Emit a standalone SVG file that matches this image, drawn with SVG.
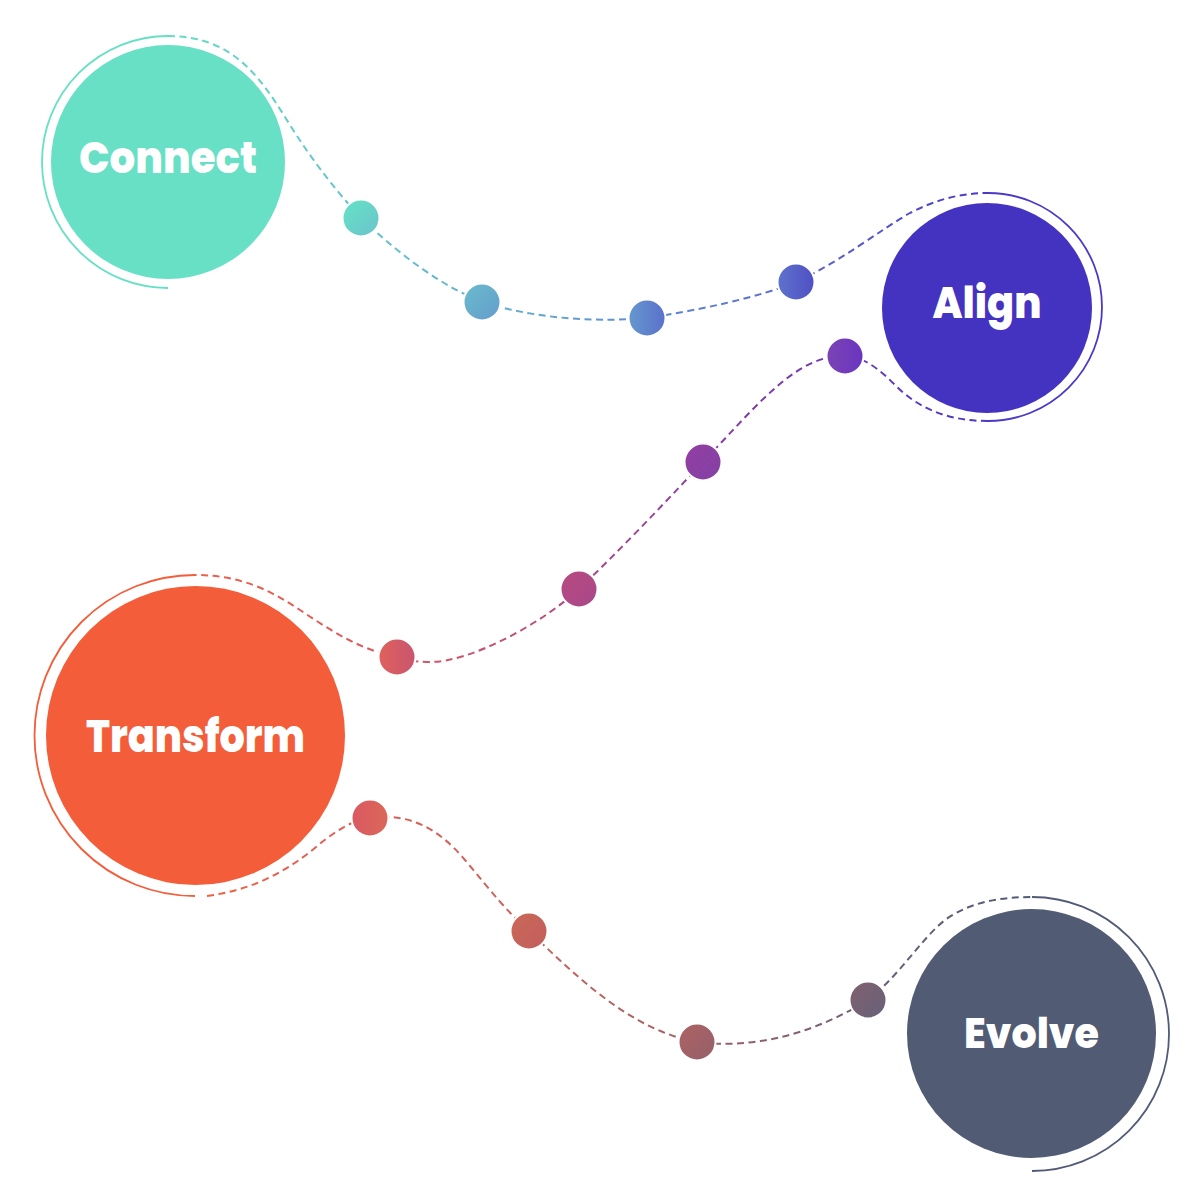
<svg xmlns="http://www.w3.org/2000/svg" width="1200" height="1200" viewBox="0 0 1200 1200">
<style>
.lbl{font-family:Poppins,Inter,"Noto Sans",sans-serif;font-weight:800;fill:#ffffff;text-anchor:middle}
.dash{fill:none;stroke-width:2;stroke-dasharray:7 4.5}
.ring{fill:none;stroke-width:1.8}
.dot{stroke:#ffffff;stroke-width:2}
</style>
<defs>
<linearGradient id="gA" gradientUnits="userSpaceOnUse" x1="168" y1="0" x2="988" y2="0">
<stop offset="0" stop-color="#66dcc6"/><stop offset="0.4" stop-color="#65b0cc"/><stop offset="0.6" stop-color="#5c88d0"/><stop offset="0.8" stop-color="#5a62cc"/><stop offset="1" stop-color="#4a38c8"/>
</linearGradient>
<linearGradient id="gB" gradientUnits="userSpaceOnUse" x1="988" y1="0" x2="195" y2="0">
<stop offset="0" stop-color="#4a3ac8"/><stop offset="0.18" stop-color="#6a38bb"/><stop offset="0.36" stop-color="#8a40a0"/><stop offset="0.52" stop-color="#b04a84"/><stop offset="0.75" stop-color="#d85a60"/><stop offset="1" stop-color="#f06048"/>
</linearGradient>
<linearGradient id="gC" gradientUnits="userSpaceOnUse" x1="207" y1="0" x2="1032" y2="0">
<stop offset="0" stop-color="#f0603f"/><stop offset="0.2" stop-color="#dd5e5a"/><stop offset="0.39" stop-color="#c8645a"/><stop offset="0.59" stop-color="#a06068"/><stop offset="0.8" stop-color="#6e6078"/><stop offset="1" stop-color="#525a78"/>
</linearGradient>
<linearGradient id="d1" x1="0" y1="0" x2="1" y2="1"><stop offset="0" stop-color="#64e4c4"/><stop offset="1" stop-color="#6cc2cc"/></linearGradient>
<linearGradient id="d2" x1="0" y1="0" x2="1" y2="1"><stop offset="0" stop-color="#6abccc"/><stop offset="1" stop-color="#649ccc"/></linearGradient>
<linearGradient id="d3" x1="0" y1="0" x2="1" y2="0"><stop offset="0" stop-color="#6598cc"/><stop offset="1" stop-color="#5a70cc"/></linearGradient>
<linearGradient id="d4" x1="0" y1="0" x2="1" y2="0"><stop offset="0" stop-color="#5e72cc"/><stop offset="1" stop-color="#5050c4"/></linearGradient>
<linearGradient id="d5" x1="0" y1="0" x2="1" y2="0"><stop offset="0" stop-color="#7a44b5"/><stop offset="1" stop-color="#6a34c0"/></linearGradient>
<linearGradient id="d6" x1="0" y1="0" x2="1" y2="1"><stop offset="0" stop-color="#923fa0"/><stop offset="1" stop-color="#8440a6"/></linearGradient>
<linearGradient id="d7" x1="0" y1="0" x2="1" y2="1"><stop offset="0" stop-color="#b84a80"/><stop offset="1" stop-color="#a8488a"/></linearGradient>
<linearGradient id="d8" x1="0" y1="0" x2="1" y2="0"><stop offset="0" stop-color="#e0605c"/><stop offset="1" stop-color="#c8566e"/></linearGradient>
<linearGradient id="d9" x1="0" y1="0" x2="1" y2="0"><stop offset="0" stop-color="#da5862"/><stop offset="1" stop-color="#da6858"/></linearGradient>
<linearGradient id="d10" x1="0" y1="0" x2="1" y2="1"><stop offset="0" stop-color="#cc6858"/><stop offset="1" stop-color="#c05e5c"/></linearGradient>
<linearGradient id="d11" x1="0" y1="0" x2="1" y2="1"><stop offset="0" stop-color="#ae6264"/><stop offset="1" stop-color="#94606a"/></linearGradient>
<linearGradient id="d12" x1="0" y1="0" x2="1" y2="1"><stop offset="0" stop-color="#80606e"/><stop offset="1" stop-color="#66627a"/></linearGradient>
</defs>

<g id="connectors">
<path class="dash" stroke="url(#gA)" d="M168,36 C235,36 262,80 290,125 C315,165 340,195 361,218 C400,255 440,285 482,302 C540,320 600,322 647,318 C700,310 760,297 796,282 C840,262 880,230 910,213 C935,200 960,193 988,193"/>
<path class="dash" stroke="url(#gB)" d="M988,421 C950,421 920,410 895,385 C880,370 865,357 845,356 C812,355 785,378 760,402 C740,422 722,442 703,462 C660,508 620,550 579,589 C540,625 470,662 430,662 C415,662 405,660 397,657 C360,650 330,630 300,610 C270,590 240,575 195,575"/>
<path class="dash" stroke="url(#gC)" d="M207,896 C250,890 280,875 310,852 C330,835 350,820 370,818 C410,812 440,830 465,860 C490,890 510,915 529,931 C575,975 630,1030 697,1042 C760,1050 820,1030 868,1000 C900,975 920,940 945,920 C970,902 1000,897 1032,897"/>
</g>

<g id="dots">
<circle class="dot" cx="361" cy="218" r="18.5" fill="url(#d1)"/>
<circle class="dot" cx="482" cy="302" r="18.5" fill="url(#d2)"/>
<circle class="dot" cx="647" cy="318" r="18.5" fill="url(#d3)"/>
<circle class="dot" cx="796" cy="282" r="18.5" fill="url(#d4)"/>
<circle class="dot" cx="845" cy="356" r="18.5" fill="url(#d5)"/>
<circle class="dot" cx="703" cy="462" r="18.5" fill="url(#d6)"/>
<circle class="dot" cx="579" cy="589" r="18.5" fill="url(#d7)"/>
<circle class="dot" cx="397" cy="657" r="18.5" fill="url(#d8)"/>
<circle class="dot" cx="370" cy="818" r="18.5" fill="url(#d9)"/>
<circle class="dot" cx="529" cy="931" r="18.5" fill="url(#d10)"/>
<circle class="dot" cx="697" cy="1042" r="18.5" fill="url(#d11)"/>
<circle class="dot" cx="868" cy="1000" r="18.5" fill="url(#d12)"/>
</g>

<g id="node-connect">
<path class="ring" stroke="#66e0c4" stroke-width="2.2" d="M168,36 A126,126 0 0 0 168,288"/>
<circle cx="168" cy="162" r="117" fill="#67e0c5"/>
<text class="lbl" x="168" y="173" font-size="44" textLength="178" lengthAdjust="spacingAndGlyphs">Connect</text>
</g>

<g id="node-align">
<path class="ring" stroke="#4a38c8" d="M988,193 A114,114 0 0 1 988,421"/>
<circle cx="987" cy="308" r="105" fill="#4432c0"/>
<text class="lbl" x="987" y="318" font-size="44" textLength="109" lengthAdjust="spacingAndGlyphs">Align</text>
</g>

<g id="node-transform">
<path class="ring" stroke="#f45c3a" d="M195,575 A160.5,160.5 0 0 0 195,896"/>
<circle cx="195.5" cy="735.5" r="149.5" fill="#f45d39"/>
<text class="lbl" x="195.5" y="752" font-size="45" textLength="219" lengthAdjust="spacingAndGlyphs">Transform</text>
</g>

<g id="node-evolve">
<path class="ring" stroke="#525a78" d="M1032,897 A137,137 0 0 1 1032,1171"/>
<circle cx="1031.5" cy="1033.5" r="124.5" fill="#515b73"/>
<text class="lbl" x="1031.5" y="1048" font-size="42" textLength="135" lengthAdjust="spacingAndGlyphs">Evolve</text>
</g>
</svg>
